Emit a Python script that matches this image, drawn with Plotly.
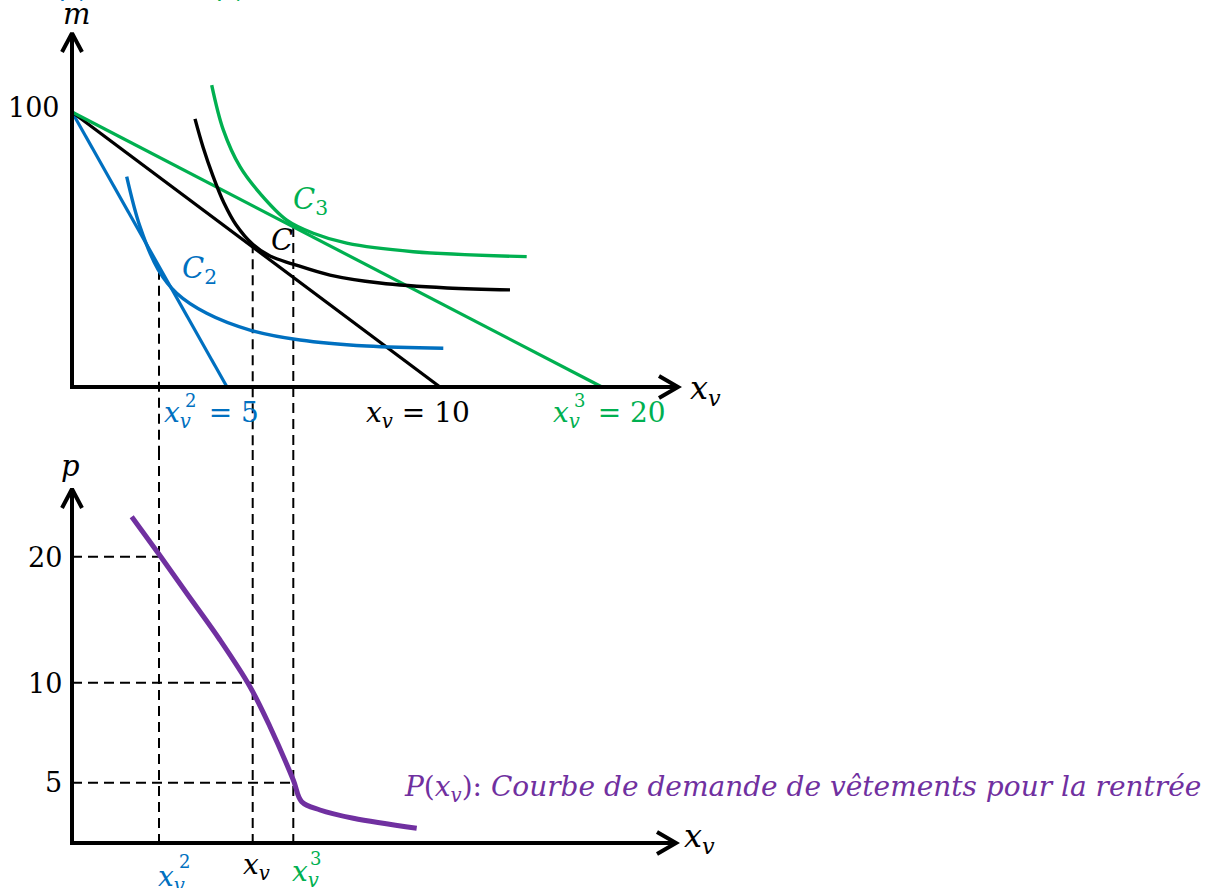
import plotly.graph_objects as go

# ---------------- data (diagram units) ----------------
income = 100
# x-intercepts of the three budget lines (p = 20, 10, 5), diagram units
budget_intercepts = [15.5, 36.8, 53.0]

# indifference curves (x_v, m)
ic2_x = [5.47, 6.80, 8.63, 10.47, 13.47, 17.80, 22.80, 29.47, 37.13]
ic2_m = [76.5, 58.3, 42.6, 34.1, 26.8, 20.7, 17.1, 14.9, 14.1]
ic_x = [12.3, 13.1, 14.1, 15.2, 16.4, 18.1, 19.8, 22.1, 25.8, 30.8, 37.5, 43.8]
ic_m = [97.5, 87.3, 76.7, 66.9, 59.0, 51.8, 47.6, 44.7, 40.7, 37.8, 36.0, 35.3]
ic3_x = [13.97, 15.13, 16.8, 18.8, 21.47, 24.13, 27.47, 34.13, 45.47]
ic3_m = [109.8, 93.5, 80.1, 70.4, 60.7, 55.9, 52.3, 49.2, 47.4]

# optimal choices (tangency points)
tangent_x = [8.7, 18.07, 22.13]
tangent_m = [42.6, 52.3, 58.2]

# price axis labels and their drawn positions (schematic axis)
price_labels = ["20", "10", "5"]
price_pos = [28.63, 16.03, 6.03]

# demand curve (x_v, drawn price position)
demand_x = [5.97, 8.63, 11.47, 14.8, 17.8, 19.8, 22.13, 22.97, 24.8, 28.13, 34.47]
demand_p = [32.63, 28.97, 24.97, 20.3, 15.63, 11.63, 6.3, 4.13, 3.3, 2.47, 1.47]

BLUE = "#0070C0"
BLACK = "#000000"
GREEN = "#00B050"
PURPLE = "#7030A0"
colors = [BLUE, BLACK, GREEN]

W, H = 1213, 888
SPLIT = 1 - 450 / H
X_RANGE = [-7.2, 114.1]
TOP_RANGE = [-22.909, 140.727]
BOT_RANGE = [-4.5, 39.3]

fig = go.Figure()

def line(x, y, color, width, yaxis="y", dash=None, shape="linear"):
    fig.add_trace(go.Scatter(x=x, y=y, mode="lines", yaxis=yaxis, xaxis="x",
                             line=dict(color=color, width=width, dash=dash, shape=shape),
                             hoverinfo="skip", showlegend=False))

# dashed guides
for tx, tm in zip(tangent_x, tangent_m):
    line([tx, tx], [tm, TOP_RANGE[0]], BLACK, 2, dash="10px,6px")
    line([tx, tx], [BOT_RANGE[1], 0], BLACK, 2, yaxis="y2", dash="10px,6px")
for tx, pp in zip(tangent_x, price_pos):
    line([0, tx], [pp, pp], BLACK, 2, yaxis="y2", dash="10px,6px")

# budget lines
for xi, c in zip(budget_intercepts, colors):
    line([0, xi], [income, 0], c, 3.2)

# indifference curves
line(ic2_x, ic2_m, BLUE, 3.4, shape="spline")
line(ic_x, ic_m, BLACK, 3.4, shape="spline")
line(ic3_x, ic3_m, GREEN, 3.4, shape="spline")

# demand curve
line(demand_x, demand_p, PURPLE, 5, yaxis="y2", shape="spline")

# axes with open arrowheads
top_tip_y, top_tip_x = 128.7, 60.6
bot_tip_y, bot_tip_x = 35.4, 60.4
line([0, 0, top_tip_x], [top_tip_y, 0, 0], BLACK, 4)
line([-1.0, 0, 1.0], [top_tip_y - 6.9, top_tip_y, top_tip_y - 6.9], BLACK, 4)
line([top_tip_x - 1.9, top_tip_x, top_tip_x - 1.9], [4.0, 0, -4.0], BLACK, 4)
line([0, 0, bot_tip_x], [bot_tip_y, 0, 0], BLACK, 4, yaxis="y2")
line([-1.0, 0, 1.0], [bot_tip_y - 1.9, bot_tip_y, bot_tip_y - 1.9], BLACK, 4, yaxis="y2")
line([bot_tip_x - 1.9, bot_tip_x, bot_tip_x - 1.9], [1.1, 0, -1.1], BLACK, 4, yaxis="y2")

FONT = "DejaVu Serif"

def ann(text, px, py, size, color, xanchor="center", yanchor="middle"):
    fig.add_annotation(text=text, x=px / W, y=1 - py / H, xref="paper", yref="paper",
                       xanchor=xanchor, yanchor=yanchor, showarrow=False,
                       font=dict(family=FONT, size=size, color=color))

XV = "<i>x</i><sub><i>v</i></sub>"

# top panel texts (partially cut off at the top edge, as in the original)
ann("<i>p</i><sub><i>v</i></sub>", 58, 7, 26, BLUE, "left", "bottom")
ann("<i>p</i><sub><i>v</i></sub>", 215, 7, 26, GREEN, "left", "bottom")
ann("<i>m</i>", 77, 14, 29, BLACK)
ann("100", 62, 107, 27, BLACK, "right")
ann("<i>C</i><sub>3</sub>", 291, 201, 29, GREEN, "left")
ann("<i>C</i>", 282, 240, 29, BLACK)
ann("<i>C</i><sub>2</sub>", 180, 270, 29, BLUE, "left")
ann(XV, 688, 390, 32, BLACK, "left")
ann(XV + "&nbsp; = 5", 162, 414, 28, BLUE, "left")
ann("2", 190, 400, 18, BLUE)
ann(XV + " = 10", 364, 414, 28, BLACK, "left")
ann(XV + "&nbsp; = 20", 551, 414, 28, GREEN, "left")
ann("3", 579, 400, 18, GREEN)

# bottom panel texts
ann("<i>p</i>", 70, 466, 29, BLACK)
for lab, tx_py in zip(price_labels, [557, 683, 782]):
    ann(lab, 64, tx_py, 27, BLACK, "right")
ann(XV, 682, 838, 32, BLACK, "left")
ann(XV, 156, 878, 28, BLUE, "left")
ann("2", 184, 861, 18, BLUE)
ann(XV, 241, 866, 28, BLACK, "left")
ann(XV, 290, 873, 28, GREEN, "left")
ann("3", 315, 858, 18, GREEN)
ann("<i>P</i>(" + XV + "): <i>Courbe de demande de vêtements pour la rentrée</i>",
    402, 788, 28, PURPLE, "left")

fig.update_layout(
    width=W, height=H,
    margin=dict(l=0, r=0, t=0, b=0),
    paper_bgcolor="white", plot_bgcolor="white",
    xaxis=dict(domain=[0, 1], range=X_RANGE, visible=False, fixedrange=True),
    yaxis=dict(domain=[SPLIT, 1], range=TOP_RANGE, visible=False, anchor="x", fixedrange=True),
    yaxis2=dict(domain=[0, SPLIT], range=BOT_RANGE, visible=False, anchor="x", fixedrange=True),
    showlegend=False,
)

fig.write_html("out.html", config={"displayModeBar": False},
               post_script="document.body.style.margin='0';document.body.style.overflow='hidden';")
